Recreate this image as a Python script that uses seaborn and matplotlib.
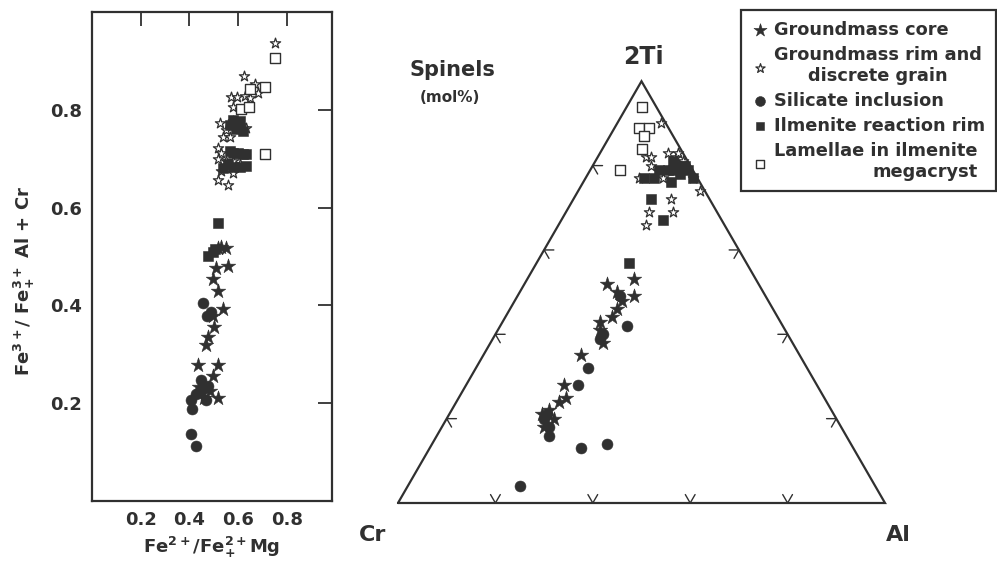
import numpy as np
import pandas as pd
import matplotlib
matplotlib.use("Agg")
import matplotlib.pyplot as plt
import seaborn as sns

# ---------------- left panel data: x = Fe2+/(Fe2+ + Mg), y = Fe3+/(Fe3+ + Al + Cr) ----------------
core_x = [0.552, 0.517, 0.558, 0.508, 0.496, 0.517, 0.538, 0.496, 0.503, 0.476,
          0.469, 0.434, 0.517, 0.496, 0.517, 0.483, 0.462, 0.441, 0.530]
core_y = [0.517, 0.517, 0.480, 0.477, 0.455, 0.430, 0.393, 0.379, 0.355, 0.335,
          0.319, 0.278, 0.278, 0.255, 0.211, 0.225, 0.211, 0.233, 0.520]

rim_x = [0.752, 0.625, 0.669, 0.570, 0.596, 0.627, 0.683, 0.648, 0.579, 0.524,
         0.552, 0.579, 0.607, 0.634, 0.538, 0.565, 0.517, 0.531, 0.517, 0.552,
         0.579, 0.531, 0.517, 0.558, 0.579, 0.607]
rim_y = [0.937, 0.870, 0.853, 0.826, 0.826, 0.828, 0.835, 0.824, 0.806, 0.773,
         0.758, 0.777, 0.769, 0.762, 0.744, 0.744, 0.722, 0.711, 0.700, 0.696,
         0.696, 0.674, 0.656, 0.647, 0.671, 0.689]

sil_x = [0.455, 0.472, 0.490, 0.448, 0.407, 0.411, 0.407, 0.428, 0.469, 0.441,
         0.476, 0.428, 0.455]
sil_y = [0.404, 0.379, 0.386, 0.247, 0.207, 0.189, 0.136, 0.112, 0.207, 0.222,
         0.236, 0.218, 0.230]

ilm_x = [0.517, 0.476, 0.496, 0.505, 0.579, 0.565, 0.590, 0.565, 0.600, 0.634,
         0.579, 0.620, 0.538, 0.579, 0.607, 0.634, 0.560, 0.610, 0.620]
ilm_y = [0.569, 0.501, 0.510, 0.515, 0.780, 0.769, 0.760, 0.715, 0.711, 0.709,
         0.711, 0.710, 0.682, 0.684, 0.684, 0.685, 0.690, 0.777, 0.757]

lam_x = [0.752, 0.710, 0.648, 0.614, 0.645, 0.710]
lam_y = [0.906, 0.847, 0.842, 0.802, 0.806, 0.709]

# ---------------- ternary data (mol%): 2Ti, Cr, Al ----------------
core_ti = [53, 52, 50, 49, 48, 46, 44, 43, 41, 38, 35, 28, 25, 24, 22, 21, 20, 18]
core_cr = [25, 31, 30, 27, 30, 32, 34, 37, 38, 39, 45, 52, 53, 55, 58, 60, 58, 61]
core_al = [22, 17, 20, 24, 22, 22, 22, 20, 21, 23, 20, 20, 22, 21, 20, 19, 22, 21]

rim_ti = [90, 82, 82, 80, 77, 83, 82, 83, 77, 74, 72, 69, 69, 66, 77, 81]
rim_cr = [1, 8, 7, 8, 12, 3, 2, 1, 7, 1, 8, 14, 9, 16, 1, 1]
rim_al = [9, 10, 11, 12, 11, 14, 16, 16, 16, 25, 20, 17, 22, 18, 22, 18]

sil_ti = [49, 40, 39, 42, 32, 28, 20, 18, 16, 13, 14, 4, 21]
sil_cr = [30, 38, 39, 32, 45, 49, 60, 60, 61, 56, 50, 73, 59]
sil_al = [21, 22, 22, 26, 23, 23, 20, 22, 23, 31, 36, 23, 20]

ilm_ti = [81, 80, 80, 79, 79, 78, 79, 76, 77, 77, 72, 67, 57, 79, 77]
ilm_cr = [3, 2, 1, 1, 4, 3, 5, 6, 11, 9, 12, 12, 24, 7, 1]
ilm_al = [16, 18, 19, 20, 17, 19, 16, 18, 12, 14, 16, 21, 19, 14, 22]

lam_ti = [94, 89, 89, 87, 84, 79]
lam_cr = [3, 6, 4, 6, 8, 15]
lam_al = [3, 5, 7, 7, 8, 6]

labels = ["Groundmass core", "Groundmass rim and\ndiscrete grain", "Silicate inclusion",
          "Ilmenite reaction rim", "Lamellae in ilmenite\nmegacryst"]
ticks = [0.2, 0.4, 0.6, 0.8]

# ---------------- style ----------------
sns.set_theme(style="white")
plt.rcParams["font.family"] = ["DejaVu Sans"]
plt.rcParams["font.weight"] = "bold"
plt.rcParams["mathtext.default"] = "bf"
INK = "#303030"

styles = {
    "core": dict(marker="*", s=120, color=INK, edgecolor=INK, linewidth=0.4),
    "rim": dict(marker="*", s=60, color=INK, facecolor="white", edgecolor=INK, linewidth=0.9),
    "sil": dict(marker="o", s=62, color=INK, edgecolor=INK, linewidth=0.4),
    "ilm": dict(marker="s", s=42, color=INK, edgecolor=INK, linewidth=0.4),
    "lam": dict(marker="s", s=50, color=INK, facecolor="white", edgecolor=INK, linewidth=1.0),
}

W, H = 997, 562
fig = plt.figure(figsize=(W / 100, H / 100), dpi=100)
fig.patch.set_facecolor("white")

# ---------------- left panel ----------------
ax = fig.add_axes([92 / W, (H - 501) / H, 240 / W, 489 / H])
left_sets = [("core", core_x, core_y), ("rim", rim_x, rim_y), ("sil", sil_x, sil_y),
             ("ilm", ilm_x, ilm_y), ("lam", lam_x, lam_y)]
for key, xs, ys in left_sets:
    df = pd.DataFrame({"x": xs, "y": ys})
    sns.scatterplot(data=df, x="x", y="y", ax=ax, legend=False, zorder=3, **styles[key])
ax.set_xlim(0, 0.986)
ax.set_ylim(0, 1.0)
ax.set_xticks(ticks)
ax.set_yticks(ticks)
ax.set_xticklabels([f"{t:.1f}" for t in ticks])
ax.set_yticklabels([f"{t:.1f}" for t in ticks])
ax.tick_params(direction="in", length=10, width=1.3, color=INK, top=True, right=True,
               labelsize=13, labelcolor=INK, pad=7)
for lab in ax.get_xticklabels() + ax.get_yticklabels():
    lab.set_fontweight("bold")
for sp in ax.spines.values():
    sp.set_linewidth(1.6)
    sp.set_color(INK)
ax.set_xlabel(r"Fe$^{2+}$/Fe$^{2+}_{+}$Mg", fontsize=13, fontweight="bold", color=INK)
ax.set_ylabel(r"Fe$^{3+}$/ Fe$^{3+}_{+}$ Al + Cr", fontsize=13, fontweight="bold", color=INK)
ax.xaxis.set_label_coords(0.5, -0.095)
ax.xaxis.label.set_va("center")
ax.yaxis.set_label_coords(-0.28, 0.45)
ax.yaxis.label.set_va("center")

# ---------------- ternary panel ----------------
h = np.sqrt(3) / 2
axt = fig.add_axes([398 / W, (H - 503) / H, 487 / W, 487 * h / H])
axt.set_xlim(0, 1)
axt.set_ylim(0, h)
axt.axis("off")
axt.plot([0, 1, 0.5, 0], [0, 0, h, 0], color=INK, lw=1.6, clip_on=False,
         solid_joinstyle="miter")

L = 0.02
def chevron(p, d1, d2):
    axt.plot([p[0] + L * d1[0], p[0], p[0] + L * d2[0]],
             [p[1] + L * d1[1], p[1], p[1] + L * d2[1]],
             color=INK, lw=1.0, clip_on=False)

for f in ticks:
    chevron((f, 0), (0.5, h), (-0.5, h))                       # base
    chevron((0.5 * f, h * f), (1, 0), (0.5, -h))               # Cr-2Ti side
    chevron((1 - 0.5 * f, h * f), (-1, 0), (-0.5, -h))         # Al-2Ti side

tern_sets = [("core", core_ti, core_al), ("rim", rim_ti, rim_al), ("sil", sil_ti, sil_al),
             ("ilm", ilm_ti, ilm_al), ("lam", lam_ti, lam_al)]
handles = []
for key, ti, al in tern_sets:
    ti = np.asarray(ti, float) / 100
    al = np.asarray(al, float) / 100
    df = pd.DataFrame({"x": al + ti / 2, "y": ti * h})
    sns.scatterplot(data=df, x="x", y="y", ax=axt, legend=False, zorder=3,
                    clip_on=False, **styles[key])
    handles.append(axt.collections[-1])

fig.text(643 / W, 1 - 57 / H, "2Ti", ha="center", va="center", fontsize=17,
         fontweight="bold", color=INK)
fig.text(373 / W, 1 - 535 / H, "Cr", ha="center", va="center", fontsize=16,
         fontweight="bold", color=INK)
fig.text(898 / W, 1 - 535 / H, "Al", ha="center", va="center", fontsize=16,
         fontweight="bold", color=INK)
fig.text(452 / W, 1 - 70 / H, "Spinels", ha="center", va="center", fontsize=15,
         fontweight="bold", color=INK)
fig.text(450 / W, 1 - 98 / H, "(mol%)", ha="center", va="center", fontsize=11,
         fontweight="bold", color=INK)

# ---------------- legend ----------------
leg = fig.legend(handles, labels, loc="upper right", bbox_to_anchor=(0.999, 1 - 10 / H),
                 bbox_transform=fig.transFigure, borderaxespad=0, frameon=True,
                 fancybox=False, edgecolor=INK, framealpha=1, fontsize=12.8,
                 handlelength=0.9, handletextpad=0.35, borderpad=0.6, labelspacing=0.4,
                 markerscale=0.9)
leg.get_frame().set_linewidth(1.6)
texts = leg.get_texts()
for t in texts:
    t.set_fontweight("bold")
    t.set_color(INK)
texts[1].set_multialignment("center")
texts[4].set_multialignment("right")

fig.savefig("out.png", dpi=100, facecolor="white")
